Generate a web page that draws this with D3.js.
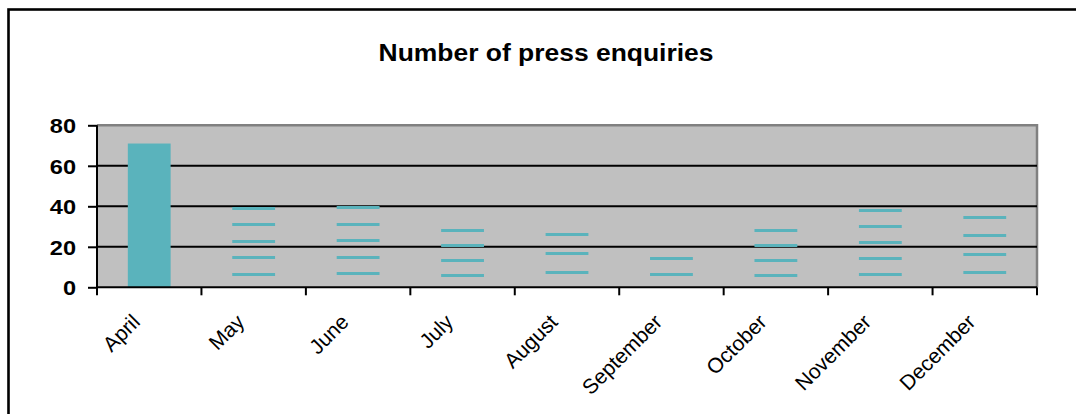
<!DOCTYPE html>
<html>
<head>
<meta charset="utf-8">
<script src="https://cdn.jsdelivr.net/npm/d3@7"></script>
<style>
  html, body { margin: 0; padding: 0; background: #fff; }
  svg { display: block; }
  text { font-family: "Liberation Sans", Arial, sans-serif; fill: #000; }
</style>
</head>
<body>
<svg id="chart" width="1076" height="414"></svg>
<script>
// Monthly press enquiries
const months = ["April", "May", "June", "July", "August", "September", "October", "November", "December"];
const enquiries = [71, 40.5, 41, 29.5, 27.5, 16, 29.5, 39.5, 36];
// Number of stacked units drawn per month (0 = solid column)
const units = [0, 5, 5, 4, 3, 2, 4, 5, 4];
const yTicks = [0, 20, 40, 60, 80];
const title = "Number of press enquiries";

const W = 1076, H = 414;
const plot = { left: 97, right: 1037, top: 125.3, bottom: 287.3 };
const barColor = "#5ab3bc";
const stretch = 1.15;

const svg = d3.select("#chart");

// Outer chart frame (runs past the right and bottom edges)
svg.append("rect")
  .attr("x", 8.5).attr("y", 9.5)
  .attr("width", W + 20).attr("height", H + 20)
  .attr("fill", "#fff").attr("stroke", "#000").attr("stroke-width", 2.6);

const x = d3.scaleBand().domain(months).range([plot.left, plot.right]).paddingInner(0.59).paddingOuter(0.295);
const xb = d3.scaleBand().domain(months).range([plot.left, plot.right]);
const y = d3.scaleLinear().domain([0, 80]).range([plot.bottom, plot.top]);

// Plot area
svg.append("rect")
  .attr("x", plot.left).attr("y", plot.top)
  .attr("width", plot.right - plot.left).attr("height", plot.bottom - plot.top)
  .attr("fill", "#c0c0c0");
svg.append("path")
  .attr("d", `M${plot.left},${plot.top}H${plot.right}V${plot.bottom}`)
  .attr("fill", "none").attr("stroke", "#808080").attr("stroke-width", 2.5);

// Gridlines
svg.append("g").selectAll("line")
  .data(yTicks.filter(t => t > 0 && t < 80))
  .join("line")
  .attr("x1", plot.left).attr("x2", plot.right)
  .attr("y1", d => y(d)).attr("y2", d => y(d))
  .attr("stroke", "#000").attr("stroke-width", 2);

// Columns
const data = months.map((m, i) => ({ month: m, value: enquiries[i], units: units[i] }));
const bars = svg.append("g");
data.forEach(d => {
  if (d.units === 0) {
    bars.append("rect")
      .attr("x", x(d.month)).attr("width", x.bandwidth())
      .attr("y", y(d.value)).attr("height", y(0) - y(d.value))
      .attr("fill", barColor);
  } else {
    const step = d.value / d.units;
    const tops = d3.range(1, d.units + 1).map(k => k * step);
    bars.selectAll(null).data(tops).join("rect")
      .attr("x", x(d.month)).attr("width", x.bandwidth())
      .attr("y", v => Math.round(y(v) + 1.8)).attr("height", 3)
      .attr("fill", barColor);
  }
});

// Y axis
const yAxis = svg.append("g").attr("transform", `translate(${plot.left},0)`)
  .call(d3.axisLeft(y).tickValues(yTicks).tickSize(9).tickPadding(0).tickFormat(d3.format("d")));
yAxis.select(".domain").attr("stroke", "#000").attr("stroke-width", 2)
  .attr("d", `M0,${plot.top}V${plot.bottom}`);
yAxis.selectAll(".tick line").attr("stroke", "#000").attr("stroke-width", 2);
yAxis.selectAll(".tick text")
  .attr("x", 0).attr("dy", null)
  .attr("transform", `translate(-21,7.5) scale(${stretch},1)`)
  .style("font-size", "20.5px").style("font-weight", "bold")
  .attr("text-anchor", "end");

// X axis
const xAxis = svg.append("g").attr("transform", `translate(0,${plot.bottom})`)
  .call(d3.axisBottom(xb).tickSize(0).tickPadding(0));
xAxis.select(".domain").attr("stroke", "#000").attr("stroke-width", 2)
  .attr("d", `M${plot.left},0H${plot.right}`);
xAxis.selectAll(".tick text")
  .attr("y", 0).attr("dy", null)
  .attr("text-anchor", "end")
  .attr("transform", "translate(-8,36) rotate(-45)")
  .style("font-size", "21px");
// Category separator ticks
svg.append("g").selectAll("line")
  .data(months.map(m => xb(m)).concat([plot.right]))
  .join("line")
  .attr("x1", d => d).attr("x2", d => d)
  .attr("y1", plot.bottom).attr("y2", plot.bottom + 8)
  .attr("stroke", "#000").attr("stroke-width", 2);

// Title
svg.append("text")
  .attr("transform", `translate(546,61) scale(${stretch},1)`)
  .attr("text-anchor", "middle")
  .style("font-size", "23px").style("font-weight", "bold")
  .text(title);
</script>
</body>
</html>
